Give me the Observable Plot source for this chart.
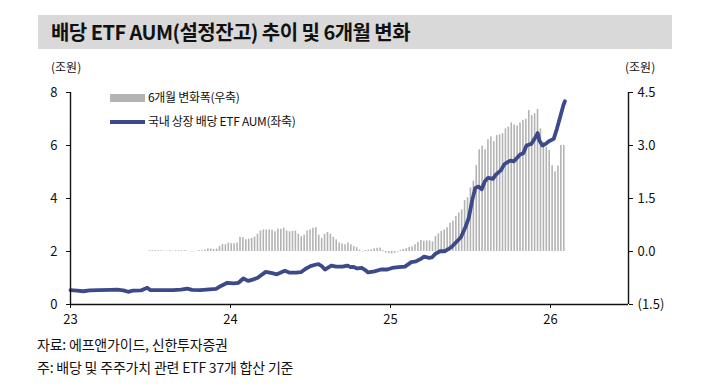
<!DOCTYPE html>
<html>
<head>
<meta charset="utf-8">
<script src="https://cdn.jsdelivr.net/npm/d3@7"></script>
<script src="https://cdn.jsdelivr.net/npm/@observablehq/plot@0.6"></script>
<style>
  html, body { margin: 0; padding: 0; background: #fff; }
  body { width: 728px; height: 389px; overflow: hidden; font-family: 'Noto Sans CJK KR', 'Noto Sans', sans-serif; color: #111; }
  #wrap { position: relative; width: 728px; height: 389px; }
  #chart { position: absolute; left: 0; top: 0; }
  .abs { position: absolute; white-space: nowrap; line-height: 1; }
  #titlebar { position: absolute; left: 38px; top: 15px; width: 634px; height: 34px; background: #d9d9d9; }
  #title { left: 51px; top: 22px; font-size: 20px; font-weight: bold; letter-spacing: -0.55px; color: #111; }
  .unit { font-size: 12px; top: 61px; }
  .leg { font-size: 12px; letter-spacing: -0.3px; }
  .src { font-size: 14px; left: 37px; letter-spacing: -0.2px; }
</style>
</head>
<body>
<div id="wrap">
  <div id="titlebar"></div>
  <div id="title" class="abs">배당 ETF AUM(설정잔고) 추이 및 6개월 변화</div>
  <div class="abs unit" style="left:51px">(조원)</div>
  <div class="abs unit" style="left:625px">(조원)</div>
  <div id="chart"></div>
  <div class="abs" style="left:110px; top:94px; width:35px; height:8px; background:#b3b3b3"></div>
  <div class="abs leg" style="left:148px; top:91px">6개월 변화폭(우축)</div>
  <div class="abs" style="left:110px; top:120px; width:35px; height:4px; background:#3c4a8a"></div>
  <div class="abs leg" style="left:148px; top:115px">국내 상장 배당 ETF AUM(좌축)</div>
  <div class="abs src" style="top:337px">자료: 에프앤가이드, 신한투자증권</div>
  <div class="abs src" style="top:360px">주: 배당 및 주주가치 관련 ETF 37개 합산 기준</div>
</div>
<script>
// x axis (years, 2-digit)
const xTicks = [23, 24, 25, 26];
const leftTicks = [0, 2, 4, 6, 8];
const rightTicks = [-1.5, 0, 1.5, 3.0, 4.5];

// AUM line (left axis, 조원) — dates in decimal years
const lineDates = [23.00,23.04,23.08,23.12,23.18,23.25,23.29,23.33,23.36,23.39,23.44,23.48,23.50,23.56,23.64,23.69,23.73,23.76,23.81,23.85,23.91,23.94,23.98,24.02,24.05,24.08,24.11,24.14,24.17,24.22,24.26,24.29,24.34,24.37,24.41,24.44,24.47,24.50,24.53,24.55,24.57,24.59,24.63,24.66,24.70,24.73,24.75,24.77,24.79,24.82,24.84,24.86,24.90,24.94,24.98,25.01,25.05,25.09,25.13,25.16,25.19,25.21,25.24,25.26,25.28,25.31,25.34,25.38,25.41,25.44,25.47,25.49,25.51,25.53,25.55,25.57,25.59,25.61,25.64,25.66,25.69,25.71,25.73,25.75,25.77,25.79,25.81,25.83,25.85,25.88,25.90,25.92,25.93,25.95,25.97,25.99,26.02,26.04,26.06,26.08,26.09];
const aumValues = [0.54,0.52,0.50,0.53,0.54,0.55,0.56,0.53,0.48,0.52,0.53,0.63,0.54,0.54,0.54,0.56,0.60,0.55,0.54,0.56,0.59,0.70,0.82,0.80,0.82,0.98,0.89,0.94,1.01,1.23,1.18,1.14,1.27,1.20,1.20,1.22,1.35,1.45,1.50,1.52,1.45,1.32,1.47,1.43,1.43,1.47,1.41,1.42,1.36,1.38,1.31,1.21,1.25,1.32,1.32,1.38,1.41,1.43,1.60,1.63,1.72,1.81,1.76,1.78,1.91,2.01,2.01,2.16,2.35,2.54,2.94,3.29,3.92,4.40,4.45,4.35,4.65,4.78,4.74,4.91,5.06,5.28,5.37,5.43,5.40,5.53,5.66,5.71,6.00,6.06,6.25,6.47,6.19,6.00,6.06,6.16,6.25,6.63,7.07,7.51,7.67];

// 6-month change bars (right axis, 조원), weekly from first to last date
const barFirstDate = 23.494;
const barLastDate = 26.083;
const changeValues = [
  0.02,0.02,0.02,0.02,0.02,0.01,0.01,0.02,0.01,0.02,0.02,0.02,0.02,0.01,-0.01,-0.01,0.01,0.02,0.02,0.04,0.08,0.07,0.06,0.07,0.14,0.20,0.19,0.24,0.22,0.22,0.24,0.40,0.39,0.33,0.35,0.37,0.41,0.49,0.58,
  0.61,0.61,0.61,0.60,0.56,0.63,0.63,0.66,0.58,0.56,0.57,0.58,0.49,0.42,0.46,0.58,0.61,0.66,0.67,0.46,0.37,0.49,0.54,0.49,0.40,0.33,0.24,0.21,0.19,0.24,0.19,0.14,0.11,0.04,-0.01,0.03,0.04,0.05,0.08,0.09,0.10,
  0.03,-0.04,-0.06,-0.07,-0.05,-0.02,
  0.03,0.06,0.08,0.11,0.13,0.19,0.26,0.31,0.29,0.30,0.30,0.27,0.42,0.50,0.57,0.61,0.67,0.80,0.86,0.99,1.09,1.18,1.44,1.52,1.80,1.99,2.43,2.88,
  2.98,2.88,3.16,3.24,3.11,3.28,3.30,3.33,3.47,3.52,3.64,3.58,3.55,3.64,3.71,3.74,3.99,3.85,3.90,4.02,3.47,3.09,2.95,2.86,2.43,2.26,2.42,3.00,3.00
];

// right-axis value -> left-axis value (4.5 ↔ 8, -1.5 ↔ 0)
const toLeft = r => (r + 1.5) * 8 / 6;
const toRight = l => l * 6 / 8 - 1.5;

const lineData = lineDates.map((d, i) => ({x: d, v: aumValues[i]}));
const n = changeValues.length;
const barData = changeValues.map((v, i) => ({x: barFirstDate + i * (barLastDate - barFirstDate) / (n - 1), v}));

const fmtRight = l => {
  const r = Math.round(toRight(l) * 10) / 10;
  return r < 0 ? `(${Math.abs(r).toFixed(1)})` : r.toFixed(1);
};

const chart = Plot.plot({
  width: 728,
  height: 389,
  marginLeft: 70,
  marginRight: 100,
  marginTop: 92,
  marginBottom: 85,
  x: {domain: [23, 26.4875]},
  y: {domain: [0, 8]},
  style: {fontFamily: "'Noto Sans CJK KR', sans-serif", fontSize: "13px", color: "#111", background: "transparent", overflow: "visible"},
  marks: [
    Plot.ruleX(barData, {x: "x", y1: () => toLeft(0), y2: d => toLeft(d.v), stroke: "#b3b3b3", strokeWidth: 1.6}),
    Plot.line(lineData, {x: "x", y: "v", stroke: "#3c4a8a", strokeWidth: 3.8, strokeLinejoin: "round"}),
    Plot.ruleX([23], {stroke: "#111", strokeWidth: 1.4}),
    Plot.ruleX([26.4875], {stroke: "#111", strokeWidth: 1.4}),
    Plot.ruleY([0], {stroke: "#111", strokeWidth: 1.4}),
    Plot.axisY({ticks: leftTicks, anchor: "left", tickSize: 4, tickPadding: 9, label: null, tickFormat: d => String(d)}),
    Plot.axisY({ticks: rightTicks.map(toLeft), anchor: "right", tickSize: 4, tickPadding: 5, label: null, tickFormat: fmtRight}),
    Plot.axisX({ticks: xTicks, anchor: "bottom", tickSize: 4, tickPadding: 6, label: null, tickFormat: d => String(d)})
  ]
});
document.getElementById("chart").appendChild(chart);
</script>
</body>
</html>
